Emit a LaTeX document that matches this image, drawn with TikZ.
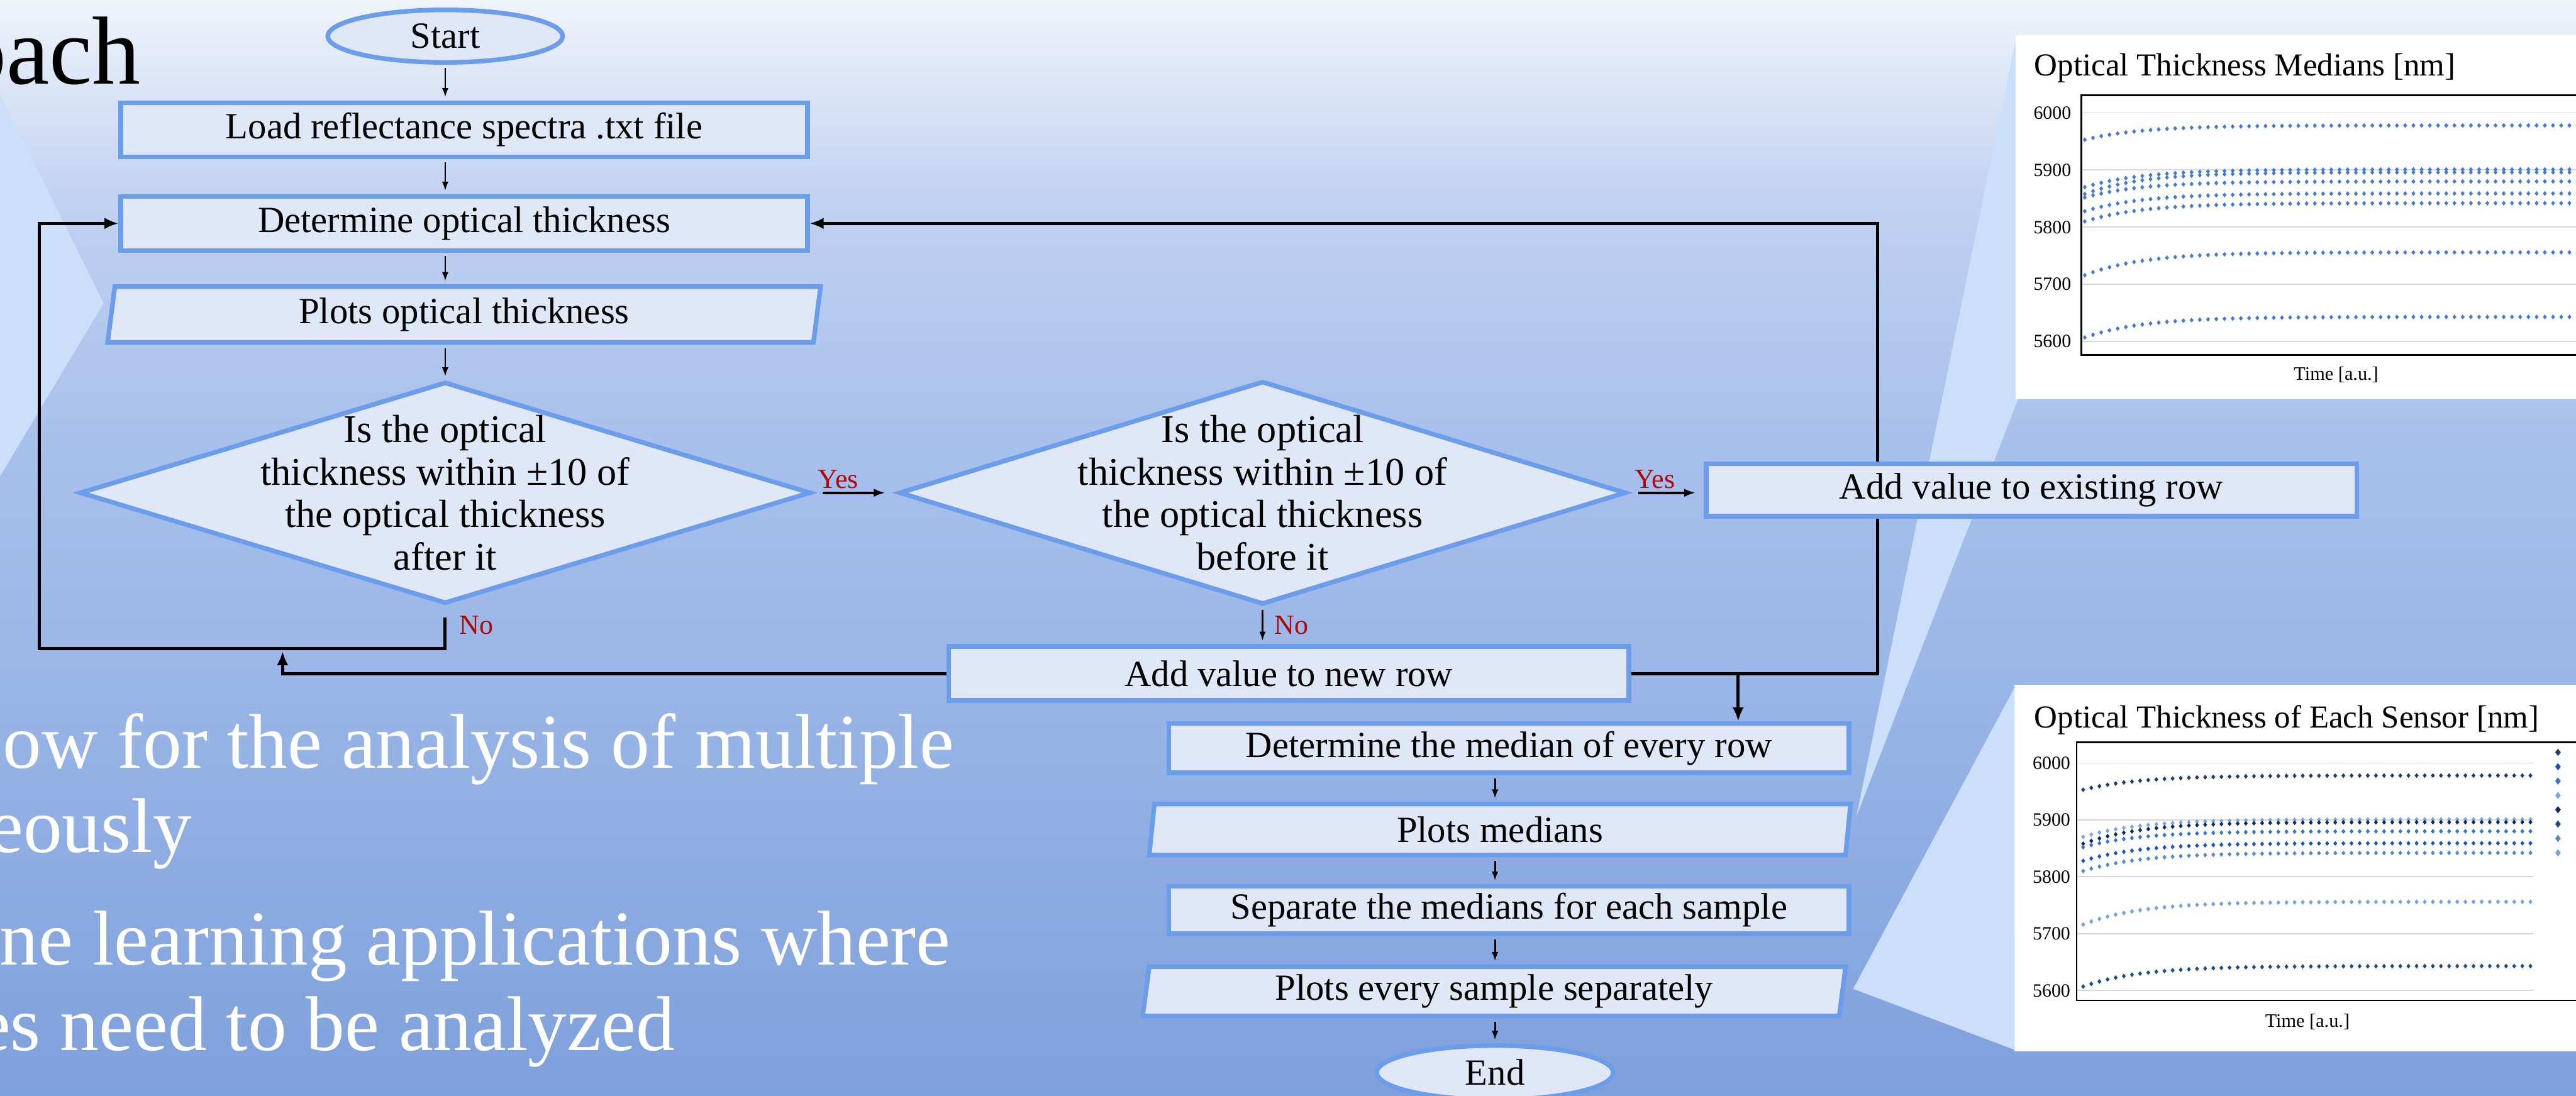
\documentclass[tikz,border=0pt]{standalone}
\usepackage{fontspec}
\setmainfont{Liberation Serif}
\usetikzlibrary{shapes.geometric,arrows.meta,calc,positioning}

\definecolor{boxfill}{RGB}{224,232,247}
\definecolor{boxline}{RGB}{108,157,234}
\definecolor{nored}{RGB}{175,8,8}
\definecolor{wedge}{RGB}{203,223,250}
\definecolor{dotblue}{RGB}{68,122,212}
\definecolor{gridgray}{RGB}{215,215,215}
\definecolor{serA}{RGB}{31,58,112}
\definecolor{serB}{RGB}{122,166,230}
\definecolor{serC}{RGB}{16,42,92}
\definecolor{serD}{RGB}{56,116,214}
\definecolor{serE}{RGB}{26,82,196}
\definecolor{serF}{RGB}{84,138,204}
\definecolor{serG}{RGB}{112,162,226}
\definecolor{serH}{RGB}{24,76,138}

\pgfdeclareverticalshading{slidebg}{100bp}{rgb(0bp)=(0.494,0.627,0.859); rgb(25bp)=(0.494,0.627,0.859); rgb(42.5bp)=(0.596,0.706,0.902); rgb(55bp)=(0.659,0.753,0.925); rgb(66bp)=(0.757,0.824,0.945); rgb(75bp)=(0.941,0.957,0.984); rgb(100bp)=(0.941,0.957,0.984)}

\begin{document}
\begin{tikzpicture}[x=0.02cm, y=-0.02cm,
    box/.style={rectangle, draw=boxline, line width=1.6pt, fill=boxfill, inner sep=0pt, font=\fontsize{12.8}{15}\selectfont},
    slanted/.style={box, trapezium, trapezium left angle=78, trapezium right angle=102, trapezium stretches body},
    terminal/.style={box, ellipse},
    decision/.style={box, diamond},
    question/.style={align=center, inner sep=0pt, font=\fontsize{13.6}{14.7}\selectfont},
    thinarrow/.style={line width=0.6pt, shorten <=0.04cm, shorten >=0.04cm, -{Latex[length=0.11cm,width=0.08cm]}},
    yesarrow/.style={line width=0.8pt, -{Latex[length=0.14cm,width=0.1cm]}},
    loopline/.style={line width=1.1pt},
    looparrow/.style={loopline, -{Latex[length=0.17cm,width=0.14cm]}},
    answer/.style={text=nored, font=\fontsize{9.6}{11}\selectfont, inner sep=1pt},
    bodytext/.style={text=white, anchor=base east, inner sep=0pt, font=\fontsize{26.9}{30}\selectfont},
    charttitle/.style={anchor=base west, inner sep=0pt, font=\fontsize{11.1}{13}\selectfont},
    ticklabel/.style={anchor=east, inner sep=0pt, font=\fontsize{6.5}{8}\selectfont},
    axistitle/.style={inner sep=0pt, font=\fontsize{6.6}{8}\selectfont},
]
    \useasboundingbox (0,0) rectangle (1568,667);
    \clip (0,0) rectangle (1568,667);

    % Slide background
    \shade[shading=slidebg] (0,0) rectangle (1568,667);
    \fill[wedge] (0,57) -- (63,184.6) -- (0,290) -- cycle;
    \fill[wedge] (1130,497) -- (1228,19) -- (1228,244) -- cycle;
    \fill[wedge] (1128,602) -- (1226,419) -- (1226,639) -- cycle;

    % Medians chart
    \fill[white] (1227,21.6) rectangle (1600,243);
    \node[charttitle] (medtitle) at (1238,46.3) {Optical Thickness Medians [nm]};
    \foreach \v [count=\k from 0] in {6000,5900,5800,5700,5600} {
        \draw[gridgray, line width=0.4pt] (1267,68.7+34.8*\k) -- (1600,68.7+34.8*\k);
        \node[ticklabel] at (1261,68.7+34.8*\k) {\v};
    }
    \foreach \vstart/\vend in {5953/5978,5870/5901,5858/5896,5852/5880,5828/5859,5810/5842,5716/5756,5607/5643} {
        \foreach \i in {0,...,61} {
            \pgfmathsetmacro\yy{68.7+0.348*(6000-\vend+(\vend-\vstart)*exp(-\i/7))}
            \fill[dotblue] (1269+5*\i,\yy) +(0,-1.45) -- +(1.2,0) -- +(0,1.45) -- +(-1.2,0) -- cycle;
        }
    }
    \draw[line width=0.6pt] (1267,58) rectangle (1600,216);
    \node[axistitle] (medtime) at (1422,228) {Time [a.u.]};

    % Sensor chart
    \fill[white] (1226,417) rectangle (1600,640);
    \node[charttitle] (sentitle) at (1238,443) {Optical Thickness of Each Sensor [nm]};
    \foreach \v [count=\k from 0] in {6000,5900,5800,5700,5600} {
        \draw[gridgray, line width=0.4pt] (1264,464.5+34.63*\k) -- (1542,464.5+34.63*\k);
        \node[ticklabel] at (1260.5,464.5+34.63*\k) {\v};
    }
    \foreach \vstart/\vend/\col in {5953/5978/serA,5870/5901/serB,5858/5896/serC,5852/5880/serD,5828/5859/serE,5810/5842/serF,5716/5756/serG,5607/5643/serH} {
        \foreach \i in {0,...,55} {
            \pgfmathsetmacro\yy{464.5+0.3463*(6000-\vend+(\vend-\vstart)*exp(-\i/7))}
            \fill[\col] (1268+4.95*\i,\yy) +(0,-1.45) -- +(1.2,0) -- +(0,1.45) -- +(-1.2,0) -- cycle;
        }
    }
    \foreach \col [count=\n from 0] in {serA,serE,serD,serB,serC,serH,serF,serG}
        \fill[\col] (1557,458+8.74*\n) +(0,-2.2) -- +(1.7,0) -- +(0,2.2) -- +(-1.7,0) -- cycle;
    \draw[line width=0.6pt] (1264,452) rectangle (1600,609);
    \node[axistitle] (sentime) at (1404.5,622) {Time [a.u.]};

    % Slide text
    \node[anchor=base east, inner sep=0pt, font=\fontsize{33.5}{38}\selectfont] (heading) at (86,51) {oach};
    \node[bodytext] (bulletA) at (581,467.5) {ow for the analysis of multiple};
    \node[bodytext] (bulletB) at (117,519) {eously};
    \node[bodytext] (bulletC) at (579,587.6) {ne learning applications where};
    \node[bodytext] (bulletD) at (411,639.5) {es need to be analyzed};

    % Flowchart
    \node[terminal, minimum width=2.86cm, minimum height=0.64cm] (start) at (271,22) {Start};
    \node[box, minimum width=8.36cm, minimum height=0.66cm] (load) at (282.5,79) {Load reflectance spectra .txt file};
    \node[box, minimum width=8.36cm, minimum height=0.66cm] (determine) at (282.5,136) {Determine optical thickness};
    \node[slanted, minimum width=8.68cm, minimum height=0.68cm] (plotot) at (282.5,191.5) {Plots optical thickness};
    \node[decision, minimum width=8.9cm, minimum height=2.7cm] (after) at (271,300) {};
    \node[question] (aftertext) at (after) {Is the optical\\thickness within ±10 of\\the optical thickness\\after it};
    \node[decision, minimum width=8.85cm, minimum height=2.72cm] (before) at (768.5,300) {};
    \node[question] (beforetext) at (before) {Is the optical\\thickness within ±10 of\\the optical thickness\\before it};
    \node[box, minimum width=7.92cm, minimum height=0.64cm] (existing) at (1236.5,298.3) {Add value to existing row};
    \node[box, minimum width=8.28cm, minimum height=0.66cm] (newrow) at (784.5,410) {Add value to new row};
    \node[box, minimum width=8.28cm, minimum height=0.6cm] (median) at (918.5,455.5) {Determine the median of every row};
    \node[slanted, trapezium left angle=79, trapezium right angle=101, minimum width=8.54cm, minimum height=0.62cm] (plotmed) at (913,505) {Plots medians};
    \node[box, minimum width=8.28cm, minimum height=0.58cm] (separate) at (918.5,554) {Separate the medians for each sample};
    \node[slanted, trapezium left angle=79, trapezium right angle=101, minimum width=8.56cm, minimum height=0.6cm] (plotsep) at (909.5,603.5) {Plots every sample separately};
    \node[terminal, minimum width=2.88cm, minimum height=0.66cm] (stop) at (910,653) {End};

    \coordinate (noturn) at (24,395);
    \coordinate (merge) at (172,396.5);
    \coordinate (riser) at (1143,136);
    \coordinate (split) at (1058,410);

    % Connectors
    \draw[thinarrow] (start.south) -- (start.south |- load.north);
    \draw[thinarrow] (load.south -| start) -- (determine.north -| start);
    \draw[thinarrow] (determine.south -| start) -- (plotot.north -| start);
    \draw[thinarrow] (plotot.south -| start) -- (after.north);
    \draw[yesarrow, shorten <=0.12cm, shorten >=0.14cm] (after.east) -- node[answer, pos=0.3, above] {Yes} (before.west);
    \draw[yesarrow, shorten <=0.12cm, shorten >=0.1cm] (before.east) -- node[answer, pos=0.35, above] {Yes} (before.east -| existing.west);
    \draw[thinarrow] (before.south) -- node[answer, right=0.1cm] {No} (newrow.north -| before);
    \draw[looparrow, shorten <=0.14cm] (after.south) -- node[answer, pos=0.45, right=0.12cm] {No} (after.south |- noturn) -- (noturn) |- (determine.west);
    \draw[looparrow] (newrow.west) -| (merge);
    \draw[looparrow] (existing.north -| riser) |- (determine.east);
    \draw[loopline] (newrow.east) -| (existing.south -| riser);
    \draw[looparrow] (split) -- (split |- median.north);
    \draw[thinarrow] (median.south -| stop) -- (plotmed.north -| stop);
    \draw[thinarrow] (plotmed.south -| stop) -- (separate.north -| stop);
    \draw[thinarrow] (separate.south -| stop) -- (plotsep.north -| stop);
    \draw[thinarrow] (plotsep.south -| stop) -- (stop.north);
\end{tikzpicture}
\end{document}
